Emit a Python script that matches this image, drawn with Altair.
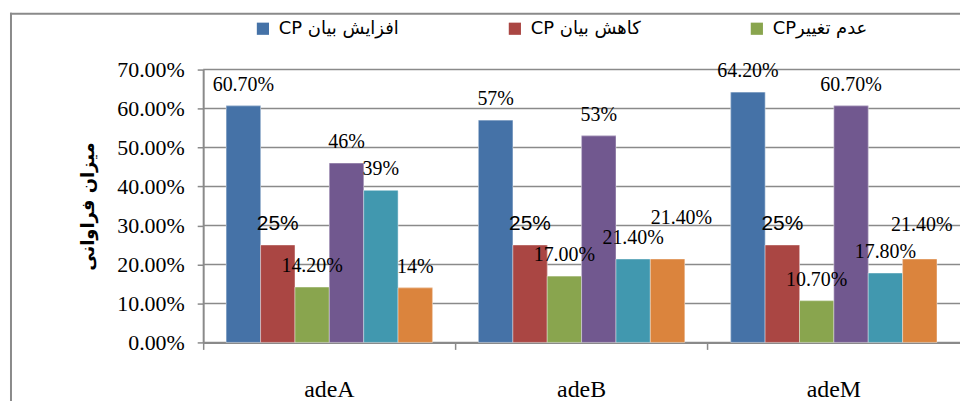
import altair as alt
import pandas as pd

genes = ["adeA", "adeB", "adeM"]
series = ["CP افزایش بیان", "CP کاهش بیان", "CPعدم تغییر", "سری ۴", "سری ۵", "سری ۶"]
colors = ["#4572A7", "#AA4643", "#89A54E", "#71588F", "#4198AF", "#DB843D"]

s1 = [60.7, 57.0, 64.2]
s2 = [25.0, 25.0, 25.0]
s3 = [14.2, 17.0, 10.7]
s4 = [46.0, 53.0, 60.7]
s5 = [39.0, 21.4, 17.8]
s6 = [14.0, 21.4, 21.4]

l1 = ["60.70%", "57%", "64.20%"]
l2 = ["25%", "25%", "25%"]
l3 = ["14.20%", "17.00%", "10.70%"]
l4 = ["46%", "53%", "60.70%"]
l5 = ["39%", "21.40%", "17.80%"]
l6 = ["14%", "21.40%", "21.40%"]

y_ticks = [0, 10, 20, 30, 40, 50, 60, 70]
y_title = "میزان فراوانی"

vals = [s1, s2, s3, s4, s5, s6]
labs = [l1, l2, l3, l4, l5, l6]
rows = []
for si, name in enumerate(series):
    for gi, g in enumerate(genes):
        rows.append({"gene": g, "series": name, "idx": si,
                     "value": vals[si][gi], "label": labs[si][gi]})
df = pd.DataFrame(rows)
grid_df = pd.DataFrame({"value": y_ticks})

W, H = 760, 274
grey = "#8a8a8a"

x_scale = alt.Scale(domain=genes, paddingInner=0, paddingOuter=0)
xo_scale = alt.Scale(domain=series, paddingInner=0, paddingOuter=0.67)
y_scale = alt.Scale(domain=[0, 70], nice=False, zero=True)

x_axis = alt.Axis(bandPosition=0, labelAngle=0, labelFont="Liberation Serif",
                  labelFontSize=24, labelColor="#000", labelPadding=28,
                  tickSize=7, tickColor=grey, tickWidth=1.5,
                  domainColor=grey, domainWidth=2, grid=False)
y_axis = alt.Axis(values=y_ticks, tickCount=8,
                  labelExpr="format(datum.value, '.2f') + '%'",
                  labelOverlap=False, grid=False,
                  labelFont="Liberation Serif", labelFontSize=22, labelColor="#000",
                  labelPadding=13, tickSize=6, tickColor=grey, tickWidth=1.5,
                  domainColor=grey, domainWidth=2,
                  titleFont="DejaVu Sans", titleFontSize=18, titleFontWeight="bold",
                  titleColor="#000", titleAngle=-90, titleX=-115, titleY=H / 2,
                  titleAlign="center", titleBaseline="middle")

x_enc = alt.X("gene:N", sort=genes, title=None, scale=x_scale, axis=x_axis)
xo_enc = alt.XOffset("series:N", sort=series, scale=xo_scale)
y_enc = alt.Y("value:Q", title=y_title, scale=y_scale, axis=y_axis)
color_scale = alt.Scale(domain=series, range=colors)

bars_legend = alt.Chart(df).mark_bar().encode(
    x=x_enc, xOffset=xo_enc, y=y_enc,
    color=alt.Color("series:N", sort=series, scale=color_scale,
                    legend=alt.Legend(values=series[:3], title=None, orient="none",
                                      legendX=51, legendY=-50, direction="horizontal",
                                      symbolType="square", symbolSize=150, symbolStrokeWidth=0,
                                      labelFont="DejaVu Sans", labelFontSize=18,
                                      labelColor="#000", labelLimit=400, labelOffset=7,
                                      columnPadding=107, padding=0))
)

# horizontal gridlines at the axis tick values, spanning the plot area
gridlines = alt.Chart(grid_df).mark_rule(color=grey, strokeWidth=1.5).encode(
    y=y_enc, x=alt.value(0), x2=alt.value(W))

bars = alt.Chart(df).mark_bar(stroke="white", strokeWidth=0.6, strokeOpacity=0.7).encode(
    x=x_enc, xOffset=xo_enc, y=y_enc,
    color=alt.Color("series:N", sort=series, scale=color_scale)
)

base_txt = alt.Chart(df).encode(x=x_enc, xOffset=xo_enc, y=y_enc, text="label:N")

# labels moved by hand in the original (Excel) chart
moved_a = "datum.idx == 5 && datum.gene == 'adeB'"
moved_b = "datum.idx == 5 && datum.gene == 'adeM'"
regular = f"!({moved_a}) && !({moved_b})"

txt_serif = base_txt.transform_filter(f"datum.idx != 1 && {regular}").mark_text(
    font="Liberation Serif", fontSize=20, color="#000", dy=-21, baseline="middle")
txt_sans = base_txt.transform_filter("datum.idx == 1").mark_text(
    font="Liberation Sans", fontSize=21, color="#000", dy=-21, baseline="middle")
txt_moved_a = base_txt.transform_filter(moved_a).mark_text(
    font="Liberation Serif", fontSize=20, color="#000", dx=14, dy=-41, baseline="middle")
txt_moved_b = base_txt.transform_filter(moved_b).mark_text(
    font="Liberation Serif", fontSize=20, color="#000", dx=2, dy=-34, baseline="middle")

frame_df = pd.DataFrame({"k": [0]})
frame_left = alt.Chart(frame_df).mark_rule(color=grey, strokeWidth=2).encode(
    x=alt.value(-193), y=alt.value(-57), y2=alt.value(345))
frame_top = alt.Chart(frame_df).mark_rule(color=grey, strokeWidth=2).encode(
    x=alt.value(-194), x2=alt.value(W + 20), y=alt.value(-56))

chart = alt.layer(bars_legend, gridlines, bars, txt_serif, txt_sans, txt_moved_a, txt_moved_b,
                  frame_left, frame_top).properties(
    width=W, height=H,
    autosize=alt.AutoSizeParams(type="none"),
    padding={"left": 196, "top": 61, "right": 0, "bottom": 58},
    background="white",
).configure_view(strokeWidth=0)

chart.save("out.html", embed_options={"renderer": "svg", "actions": False})
